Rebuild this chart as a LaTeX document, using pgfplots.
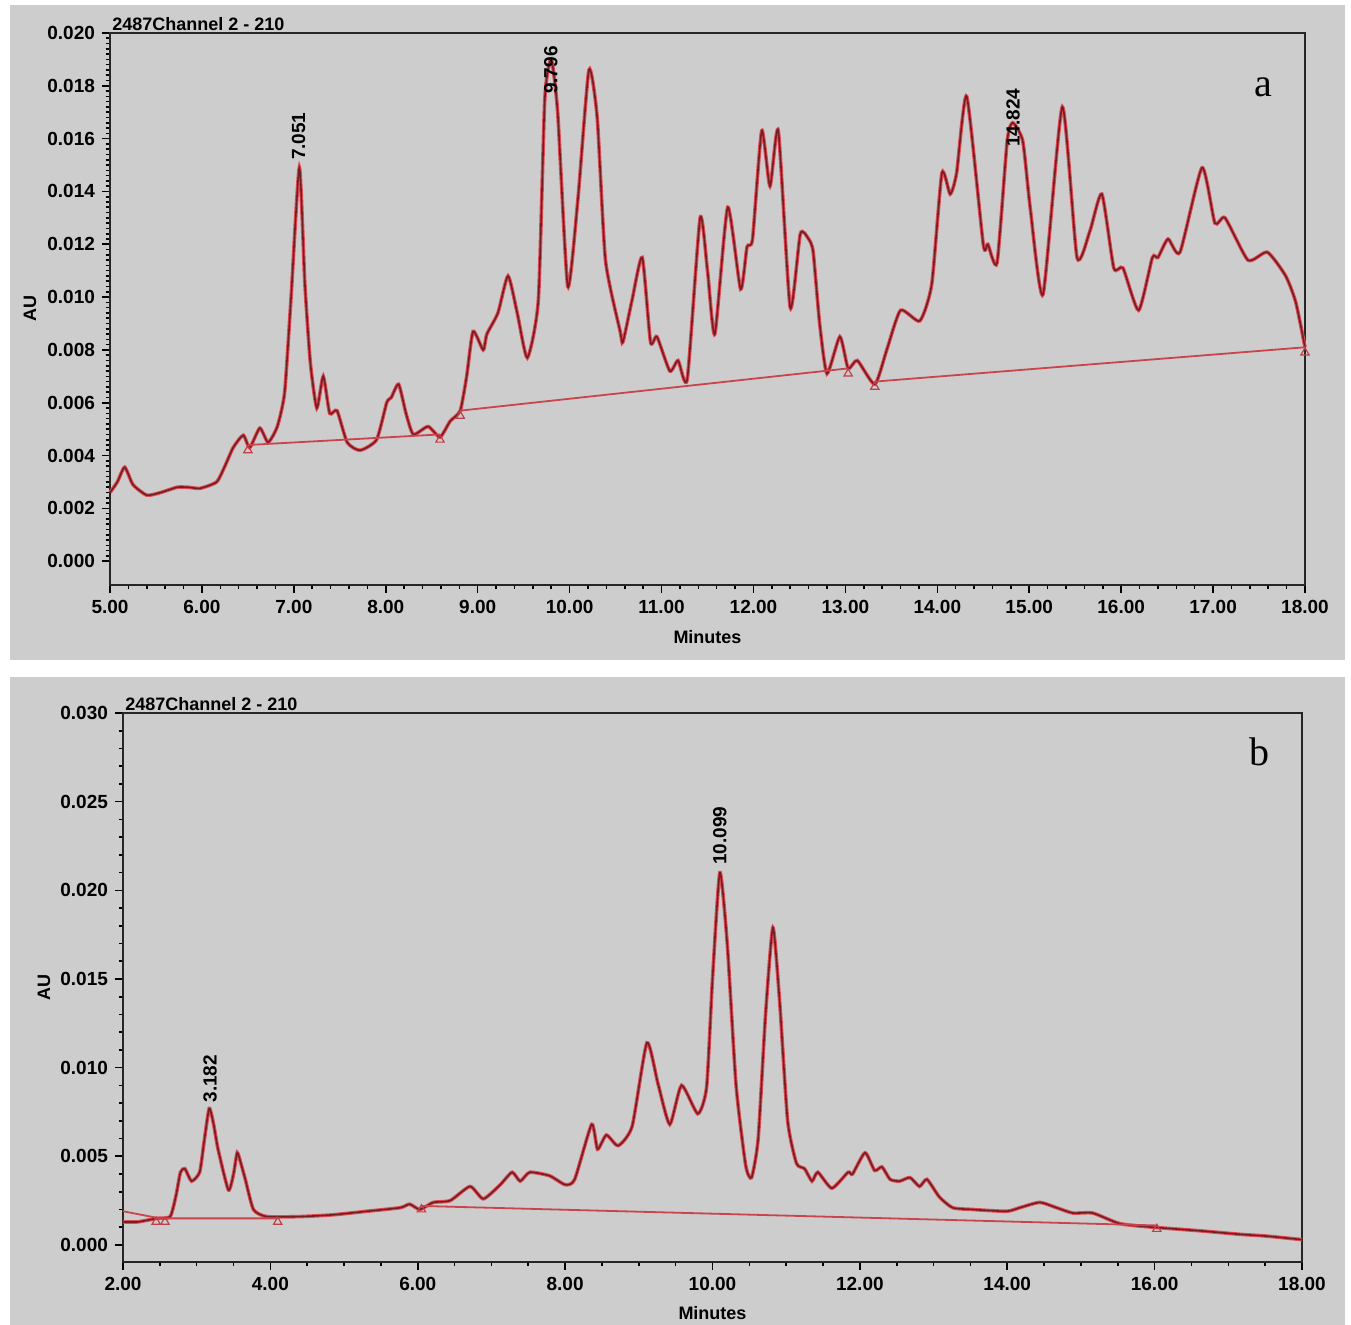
\documentclass[border=0pt]{standalone}
\usepackage{fontspec}
\setmainfont{Liberation Sans}
\newfontfamily\serifletter{Liberation Serif}
\usepackage{pgfplots}
\usepackage{pgfplotstable}
\pgfplotsset{compat=1.18}

\definecolor{bggray}{RGB}{205,205,205}
\definecolor{tracecol}{RGB}{115,30,35}
\definecolor{halocol}{RGB}{225,75,85}

% chromatogram a
\pgfplotstableread{
x y
5.00 0.0026
5.08 0.0030
5.16 0.00356
5.25 0.0029
5.40 0.0025
5.55 0.0026
5.73 0.0028
5.85 0.0028
5.98 0.00276
6.16 0.0030
6.25 0.0036
6.34 0.0043
6.45 0.00477
6.52 0.0043
6.63 0.00504
6.72 0.0045
6.82 0.0051
6.90 0.0064
6.97 0.0100
7.06 0.0149
7.12 0.0105
7.18 0.0075
7.25 0.0058
7.32 0.0070
7.39 0.0056
7.47 0.0057
7.58 0.0045
7.72 0.0042
7.90 0.0046
8.01 0.0060
8.06 0.0062
8.14 0.0067
8.22 0.0056
8.30 0.0048
8.46 0.0051
8.59 0.0047
8.70 0.0053
8.81 0.0057
8.88 0.0070
8.95 0.0087
9.06 0.0080
9.10 0.0086
9.22 0.0094
9.33 0.0108
9.43 0.0094
9.54 0.0077
9.66 0.0099
9.73 0.0175
9.80 0.0190
9.87 0.0170
9.98 0.0104
10.09 0.0137
10.21 0.0186
10.30 0.0168
10.39 0.0114
10.55 0.0087
10.58 0.0083
10.68 0.0099
10.79 0.0115
10.88 0.0083
10.95 0.0085
11.09 0.0072
11.18 0.0076
11.28 0.0069
11.42 0.0130
11.50 0.0110
11.58 0.0086
11.72 0.0134
11.86 0.0103
11.93 0.0119
11.99 0.0122
12.09 0.0163
12.18 0.0142
12.27 0.0163
12.40 0.0096
12.51 0.0124
12.60 0.0122
12.65 0.0117
12.72 0.0090
12.80 0.0071
12.94 0.0085
13.03 0.0073
13.13 0.0076
13.32 0.0067
13.45 0.0080
13.60 0.0095
13.81 0.0091
13.94 0.0105
14.05 0.0147
14.14 0.0139
14.21 0.0147
14.32 0.0176
14.50 0.0120
14.55 0.0120
14.65 0.0113
14.76 0.0159
14.82 0.0166
14.93 0.0159
15.01 0.0134
15.15 0.0101
15.36 0.0172
15.52 0.0115
15.66 0.0125
15.79 0.0139
15.92 0.0111
16.02 0.0111
16.19 0.0095
16.34 0.0115
16.40 0.0115
16.51 0.0122
16.64 0.0117
16.88 0.0149
17.02 0.0128
17.13 0.0130
17.38 0.0114
17.59 0.0117
17.79 0.0108
17.90 0.0098
18.00 0.0081
}\traceA

% chromatogram b
\pgfplotstableread{
x y
2.00 0.0013
2.20 0.0013
2.46 0.0015
2.64 0.0016
2.72 0.0028
2.78 0.0041
2.84 0.0043
2.93 0.0036
3.04 0.0041
3.10 0.0058
3.17 0.0077
3.23 0.0068
3.29 0.0054
3.43 0.0031
3.50 0.0040
3.55 0.0052
3.60 0.0046
3.66 0.0037
3.77 0.0020
3.95 0.0016
4.40 0.0016
4.85 0.0017
5.31 0.0019
5.76 0.0021
5.89 0.0023
6.03 0.0020
6.21 0.0024
6.44 0.0025
6.71 0.0033
6.89 0.0026
7.12 0.0034
7.28 0.0041
7.39 0.0036
7.52 0.0041
7.79 0.0039
8.00 0.0034
8.13 0.0037
8.36 0.0068
8.44 0.0054
8.56 0.0062
8.72 0.0056
8.91 0.0067
9.11 0.0114
9.26 0.0091
9.42 0.0068
9.58 0.0090
9.80 0.0074
9.92 0.0089
10.00 0.0150
10.10 0.0210
10.20 0.0170
10.32 0.0090
10.45 0.0045
10.53 0.0038
10.62 0.0060
10.72 0.0130
10.82 0.0179
10.91 0.0138
11.02 0.0070
11.14 0.0046
11.25 0.0043
11.35 0.0036
11.43 0.0041
11.62 0.0032
11.84 0.0041
11.90 0.0040
12.07 0.0052
12.20 0.0042
12.30 0.0044
12.41 0.0037
12.54 0.0036
12.68 0.0038
12.81 0.0033
12.91 0.0037
13.08 0.0027
13.26 0.0021
13.53 0.0020
13.99 0.0019
14.17 0.0021
14.44 0.0024
14.67 0.0021
14.89 0.0018
15.16 0.0018
15.53 0.0012
15.98 0.0010
16.61 0.0008
17.16 0.0006
17.52 0.0005
18.00 0.0003
}\traceB

\pgfplotsset{
  chrom/.style={
    scale only axis,
    clip=false,
    axis background/.style={fill=bggray},
    axis line style={line width=1.1pt, black!85},
    tick align=outside,
    xtick pos=bottom, ytick pos=left,
    major tick length=4pt, minor tick length=2.2pt,
    every tick/.style={black, line width=0.8pt},
    tick label style={font=\bfseries\fontsize{9.5}{10}\selectfont},
    scaled ticks=false,
    /pgf/number format/assume math mode=true,
    x tick label style={/pgf/number format/.cd, fixed, fixed zerofill, precision=2, /tikz/.cd},
    y tick label style={/pgf/number format/.cd, fixed, fixed zerofill, precision=3, /tikz/.cd},
    xlabel={Minutes}, ylabel={AU},
    every axis y label/.style={at={(axis description cs:-0.067,0.5)}, rotate=90,
      font=\bfseries\fontsize{9}{10}\selectfont},
    every axis x label/.style={at={(axis description cs:0.5,-0.094)},
      font=\bfseries\fontsize{9}{10}\selectfont},
  },
  haloline/.style={halocol, line width=1.8pt, smooth, tension=0.35},
  coreline/.style={tracecol, line width=0.8pt, smooth, tension=0.35},
  bline/.style={halocol!90!black, line width=0.9pt},
  tri/.style={only marks, mark=triangle, mark size=2.4pt, mark options={halocol!85!black, line width=0.6pt}},
}
\tikzset{
  peaklab/.style={rotate=90, anchor=west, inner sep=1pt, font=\bfseries\fontsize{9.5}{10}\selectfont},
}

\begin{document}
\begin{tikzpicture}
\useasboundingbox (0,0) rectangle (675.5pt,662.5pt);
\fill[white] (0,0) rectangle (675.5pt,662.5pt);
\fill[bggray] (5pt,332.5pt) rectangle (672.5pt,660pt);
\fill[bggray] (5pt,0pt) rectangle (672.5pt,324pt);

\begin{axis}[chrom,
  at={(55pt,370pt)}, anchor=south west,
  width=597.5pt, height=276pt,
  xmin=5, xmax=18, ymin=-0.0009, ymax=0.020,
  xtick={5,6,...,18}, minor x tick num=4,
  ytick={0,0.002,0.004,0.006,0.008,0.010,0.012,0.014,0.016,0.018,0.020},
  minor y tick num=9,
]
\addplot[haloline] table {\traceA};
\addplot[coreline] table {\traceA};
\addplot[bline] coordinates {(6.50,0.0044) (8.59,0.0048)};
\addplot[bline] coordinates {(8.81,0.0057) (13.03,0.0073)};
\addplot[bline] coordinates {(13.32,0.0068) (18.00,0.0081)};
\addplot[tri] coordinates {(6.50,0.0042) (8.59,0.0046) (8.81,0.0055) (13.03,0.0071) (13.32,0.0066) (18.00,0.0079)};
\node[peaklab] at (axis cs:7.051,0.0151) {7.051};
\node[peaklab] at (axis cs:9.796,0.0176) {9.796};
\node[peaklab] at (axis cs:14.824,0.0156) {14.824};
\node[anchor=south west, inner sep=1pt, font=\bfseries\fontsize{9}{10}\selectfont] at (rel axis cs:0,1) {2487Channel 2 - 210};
\node[font=\serifletter\fontsize{20}{22}\selectfont] at (rel axis cs:0.965,0.902) {a};
\end{axis}

\begin{axis}[chrom,
  at={(61.5pt,31.5pt)}, anchor=south west,
  width=589.5pt, height=274.5pt,
  xmin=2, xmax=18, ymin=-0.00096, ymax=0.030,
  xtick={2,4,...,18}, minor x tick num=3,
  ytick={0,0.005,0.010,0.015,0.020,0.025,0.030},
  minor y tick num=4,
  every axis x label/.style={at={(axis description cs:0.5,-0.093)},
    font=\bfseries\fontsize{9}{10}\selectfont},
]
\addplot[haloline] table {\traceB};
\addplot[coreline] table {\traceB};
\addplot[bline] coordinates {(2.00,0.0019) (2.50,0.0015) (4.10,0.0015)};
\addplot[bline] coordinates {(6.05,0.0022) (16.03,0.0011)};
\addplot[tri] coordinates {(2.45,0.0013) (2.57,0.0013) (4.10,0.0013) (6.05,0.0020) (16.03,0.0009)};
\node[peaklab] at (axis cs:3.182,0.0079) {3.182};
\node[peaklab] at (axis cs:10.099,0.0213) {10.099};
\node[anchor=south west, inner sep=1pt, font=\bfseries\fontsize{9}{10}\selectfont] at (rel axis cs:0,1) {2487Channel 2 - 210};
\node[font=\serifletter\fontsize{20}{22}\selectfont] at (rel axis cs:0.964,0.929) {b};
\end{axis}
\end{tikzpicture}
\end{document}
